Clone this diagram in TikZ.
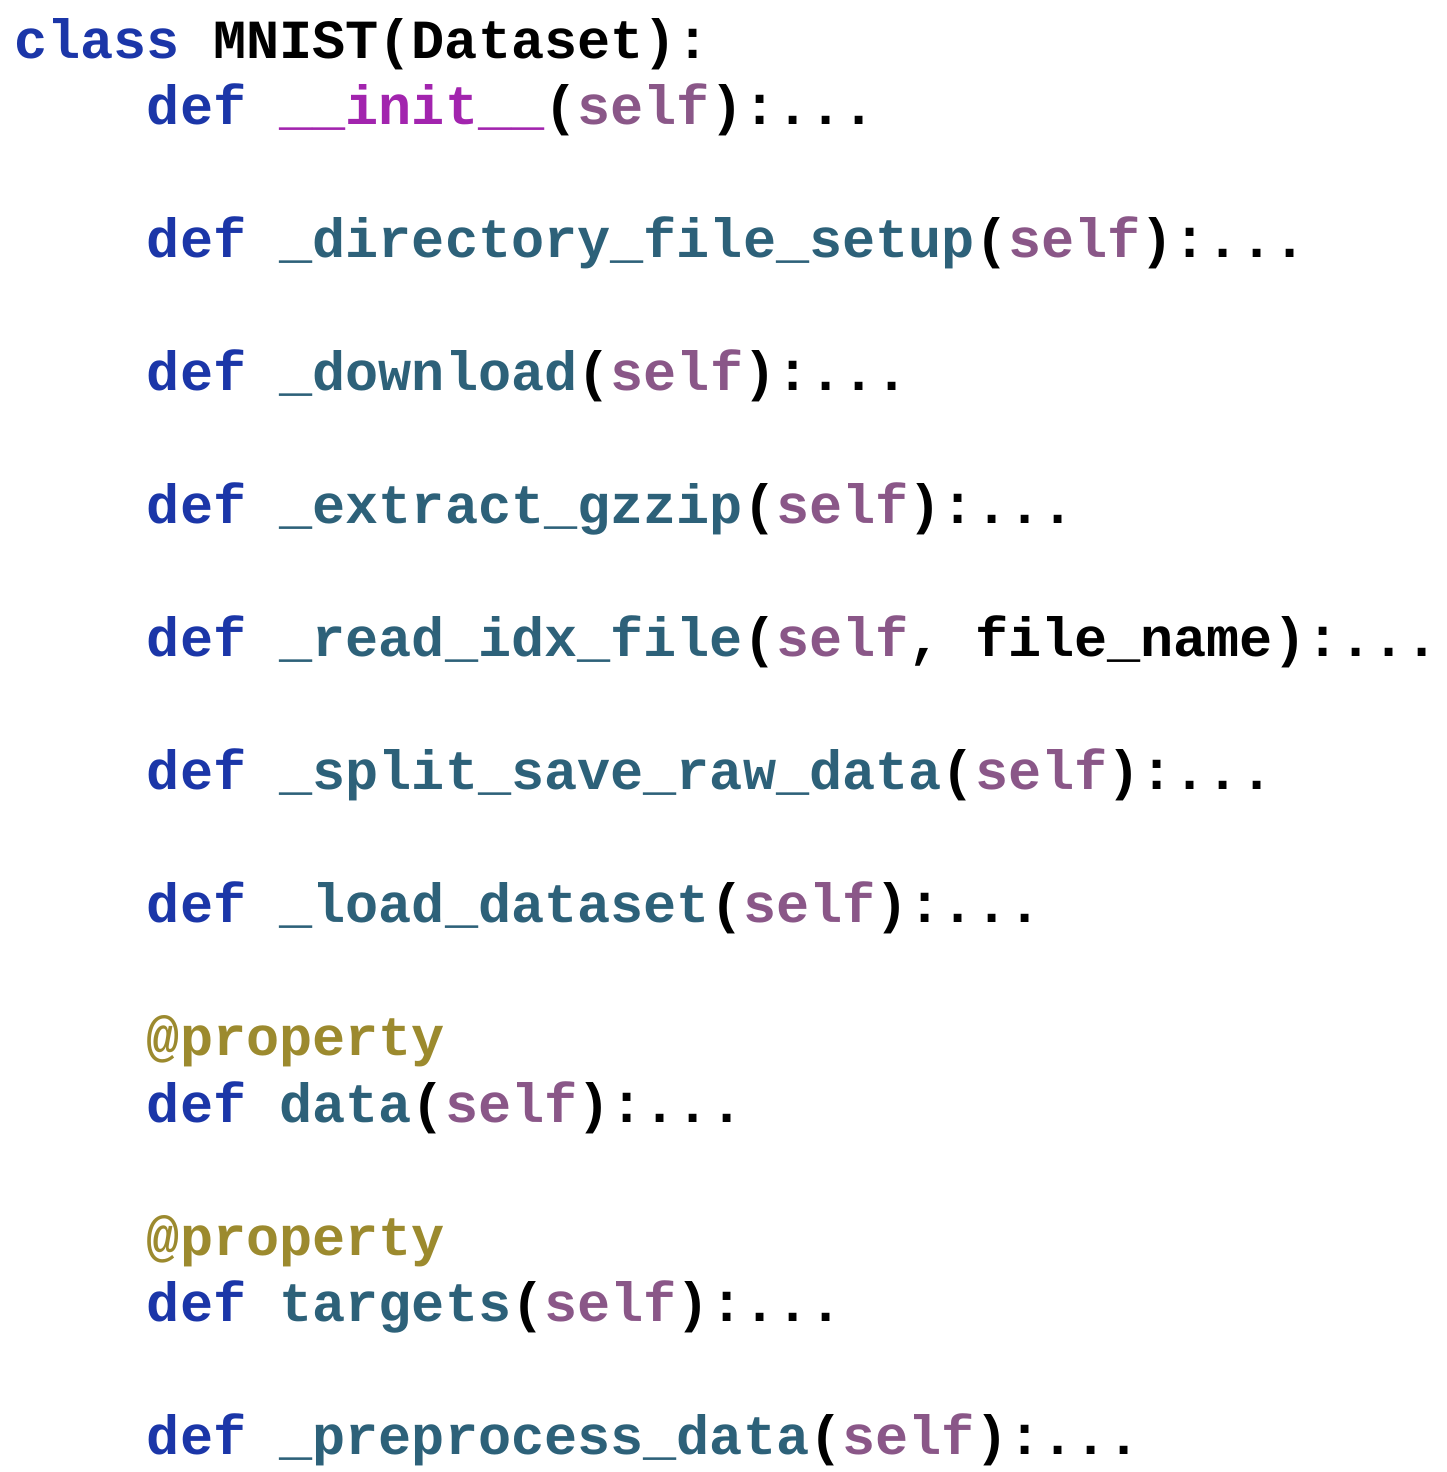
\documentclass[tikz,border=0pt]{standalone}
\usepackage{fontspec}
\setmonofont{Liberation Mono}
\usetikzlibrary{positioning}
\definecolor{kwblue}{HTML}{1B36A8}
\definecolor{fnteal}{HTML}{2D6179}
\definecolor{selfpur}{HTML}{8A5788}
\definecolor{magic}{HTML}{A224AE}
\definecolor{decol}{HTML}{9C8A2E}
\newcommand{\kw}[1]{\textcolor{kwblue}{#1}}
\newcommand{\fn}[1]{\textcolor{fnteal}{#1}}
\newcommand{\slf}{\textcolor{selfpur}{self}}
\tikzset{codeline/.style={anchor=base west,inner sep=0pt,
  font=\ttfamily\bfseries\fontsize{27.6}{33}\selectfont}}

\begin{document}
\begin{tikzpicture}[x=0.5pt,y=-0.5pt]
  \useasboundingbox (0,0) rectangle (1446,1472);
  \def\ind{\hspace*{4em}}
  % class header
  \node[codeline] (lclass) at (14,58) {\kw{class} MNIST(Dataset):};
  % methods
  \node[codeline] (linit) at (14,124.5) {\phantom{xxxx}\kw{def} \textcolor{magic}{\_\_init\_\_}(\slf):...};
  \node[codeline] (ldir) at (14,257.5) {\phantom{xxxx}\kw{def} \fn{\_directory\_file\_setup}(\slf):...};
  \node[codeline] (ldown) at (14,390.5) {\phantom{xxxx}\kw{def} \fn{\_download}(\slf):...};
  \node[codeline] (lextr) at (14,523.5) {\phantom{xxxx}\kw{def} \fn{\_extract\_gzzip}(\slf):...};
  \node[codeline] (lread) at (14,656.5) {\phantom{xxxx}\kw{def} \fn{\_read\_idx\_file}(\slf, file\_name):...};
  \node[codeline] (lsplit) at (14,789.5) {\phantom{xxxx}\kw{def} \fn{\_split\_save\_raw\_data}(\slf):...};
  \node[codeline] (lload) at (14,922.5) {\phantom{xxxx}\kw{def} \fn{\_load\_dataset}(\slf):...};
  % properties
  \node[codeline] (lprop1) at (14,1055.5) {\phantom{xxxx}\textcolor{decol}{@property}};
  \node[codeline] (ldata) at (14,1122) {\phantom{xxxx}\kw{def} \fn{data}(\slf):...};
  \node[codeline] (lprop2) at (14,1255) {\phantom{xxxx}\textcolor{decol}{@property}};
  \node[codeline] (ltarg) at (14,1321.5) {\phantom{xxxx}\kw{def} \fn{targets}(\slf):...};
  \node[codeline] (lprep) at (14,1454.5) {\phantom{xxxx}\kw{def} \fn{\_preprocess\_data}(\slf):...};
\end{tikzpicture}
\end{document}
